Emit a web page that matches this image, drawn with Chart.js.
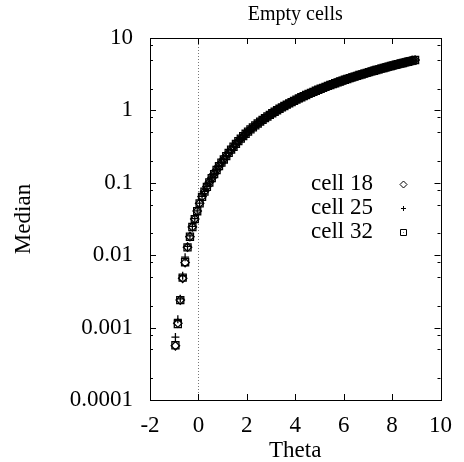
<!DOCTYPE html>
<html>
<head>
<meta charset="utf-8">
<script src="https://cdn.jsdelivr.net/npm/chart.js@4.4.0/dist/chart.umd.min.js"></script>
<style>
  html, body { margin: 0; padding: 0; background: #fff; }
  #wrap { width: 464px; height: 462px; }
</style>
</head>
<body>
<div id="wrap"><canvas id="medianChart" width="464" height="462"></canvas></div>
<script>
// Empty cells - median vs theta

var theta = [
    -0.95, -0.85, -0.75, -0.65, -0.55, -0.45, -0.35, -0.25, -0.15, -0.05,
    0.05, 0.15, 0.25, 0.35, 0.45, 0.55, 0.65, 0.75, 0.85, 0.95,
    1.05, 1.15, 1.25, 1.35, 1.45, 1.55, 1.65, 1.75, 1.85, 1.95,
    2.05, 2.15, 2.25, 2.35, 2.45, 2.55, 2.65, 2.75, 2.85, 2.95,
    3.05, 3.15, 3.25, 3.35, 3.45, 3.55, 3.65, 3.75, 3.85, 3.95,
    4.05, 4.15, 4.25, 4.35, 4.45, 4.55, 4.65, 4.75, 4.85, 4.95,
    5.05, 5.15, 5.25, 5.35, 5.45, 5.55, 5.65, 5.75, 5.85, 5.95,
    6.05, 6.15, 6.25, 6.35, 6.45, 6.55, 6.65, 6.75, 6.85, 6.95,
    7.05, 7.15, 7.25, 7.35, 7.45, 7.55, 7.65, 7.75, 7.85, 7.95,
    8.05, 8.15, 8.25, 8.35, 8.45, 8.55, 8.65, 8.75, 8.85, 8.95
];

// theta -0.95 .. 1.25, where the cells differ a little
var lowCell18 = [0.00056, 0.00115, 0.0024, 0.0048, 0.0079, 0.0129, 0.018, 0.0246, 0.0316, 0.0407,
    0.052, 0.0645, 0.0756, 0.0886, 0.102, 0.116, 0.133, 0.150, 0.171, 0.190, 0.211, 0.235, 0.260];
var lowCell25 = [0.00074, 0.0013, 0.0025, 0.0052, 0.0094, 0.0132, 0.0185, 0.0250, 0.0320, 0.0410,
    0.0525, 0.065, 0.076, 0.089, 0.102, 0.117, 0.133, 0.151, 0.171, 0.191, 0.212, 0.235, 0.261];
var lowCell32 = [0.00057, 0.00112, 0.0024, 0.0049, 0.0080, 0.0128, 0.018, 0.0245, 0.0315, 0.0405,
    0.052, 0.064, 0.0755, 0.088, 0.101, 0.116, 0.132, 0.150, 0.170, 0.190, 0.210, 0.234, 0.259];

// theta 1.35 .. 8.95, the three cells overlap
var upperMedian = [
    0.287, 0.315, 0.345, 0.376, 0.408, 0.441, 0.475, 0.510, 0.546, 0.583,
    0.621, 0.660, 0.700, 0.741, 0.783, 0.825, 0.869, 0.914, 0.959, 1.006,
    1.053, 1.102, 1.151, 1.200, 1.251, 1.303, 1.356, 1.409, 1.463, 1.518,
    1.574, 1.631, 1.689, 1.747, 1.806, 1.866, 1.927, 1.988, 2.050, 2.113,
    2.177, 2.242, 2.307, 2.373, 2.440, 2.508, 2.576, 2.646, 2.716, 2.786,
    2.858, 2.930, 3.003, 3.077, 3.151, 3.227, 3.302, 3.380, 3.456, 3.534,
    3.613, 3.692, 3.772, 3.853, 3.934, 4.017, 4.100, 4.183, 4.267, 4.352,
    4.438, 4.524, 4.611, 4.699, 4.787, 4.876, 4.966
];

var seriesNames = ['cell 18', 'cell 25', 'cell 32'];
var xTicks = [-2, 0, 2, 4, 6, 8, 10];
var yTicks = [0.0001, 0.001, 0.01, 0.1, 1, 10];
var yTickLabels = ['0.0001', '0.001', '0.01', '0.1', '1', '10'];
var yMinorSteps = [2, 5, 8];

var FONT = '"Liberation Serif", "Times New Roman", serif';

function toPoints(values) {
    return values.map(function (v, i) { return { x: theta[i], y: v }; });
}

function drawMarker(ctx, style, x, y, r) {
    ctx.beginPath();
    if (style === 'rectRot') {
        ctx.moveTo(x, y - r); ctx.lineTo(x + r, y); ctx.lineTo(x, y + r); ctx.lineTo(x - r, y); ctx.closePath();
    } else if (style === 'cross') {
        ctx.moveTo(x - r, y); ctx.lineTo(x + r, y); ctx.moveTo(x, y - r); ctx.lineTo(x, y + r);
    } else {
        ctx.rect(x - r, y - r, 2 * r, 2 * r);
        ctx.moveTo(x, y); ctx.lineTo(x + 0.5, y);
    }
    ctx.stroke();
}

var framePlugin = {
    id: 'frame',
    beforeDatasetsDraw: function (chart) {
        var ctx = chart.ctx, a = chart.chartArea;
        var x0 = Math.round(chart.scales.x.getPixelForValue(0)) + 0.5;
        ctx.save();
        ctx.strokeStyle = '#777';
        ctx.lineWidth = 1;
        ctx.setLineDash([1, 2]);
        ctx.beginPath();
        ctx.moveTo(x0, a.top);
        ctx.lineTo(x0, a.bottom);
        ctx.stroke();
        ctx.restore();
    },
    afterDatasetsDraw: function (chart) {
        var ctx = chart.ctx, a = chart.chartArea;
        var sx = chart.scales.x, sy = chart.scales.y;
        ctx.save();
        ctx.strokeStyle = '#000';
        ctx.lineWidth = 1;
        ctx.strokeRect(Math.round(a.left) + 0.5, Math.round(a.top) + 0.5,
            Math.round(a.right - a.left), Math.round(a.bottom - a.top));
        ctx.beginPath();
        xTicks.forEach(function (t) {
            var px = Math.round(sx.getPixelForValue(t)) + 0.5;
            ctx.moveTo(px, a.bottom); ctx.lineTo(px, a.bottom - 6);
            ctx.moveTo(px, a.top); ctx.lineTo(px, a.top + 6);
        });
        yTicks.forEach(function (t, i) {
            var py = Math.round(sy.getPixelForValue(t)) + 0.5;
            ctx.moveTo(a.left, py); ctx.lineTo(a.left + 6, py);
            ctx.moveTo(a.right, py); ctx.lineTo(a.right - 6, py);
            if (i < yTicks.length - 1) {
                yMinorSteps.forEach(function (m) {
                    var pm = Math.round(sy.getPixelForValue(t * m)) + 0.5;
                    ctx.moveTo(a.left, pm); ctx.lineTo(a.left + 3, pm);
                    ctx.moveTo(a.right, pm); ctx.lineTo(a.right - 3, pm);
                });
            }
        });
        ctx.stroke();

        // title
        ctx.fillStyle = '#000';
        ctx.font = '20px ' + FONT;
        ctx.textAlign = 'center';
        ctx.textBaseline = 'middle';
        ctx.fillText('Empty cells', (a.left + a.right) / 2, 15);

        // key
        var rows = [184, 208, 232];
        ctx.font = '23px ' + FONT;
        ctx.textAlign = 'right';
        ctx.lineWidth = 1;
        var keyStyles = [['rectRot', 3.5], ['cross', 2.5], ['rect', 3]];
        chart.data.datasets.forEach(function (ds, i) {
            ctx.fillText(ds.label, 373, rows[i]);
            drawMarker(ctx, keyStyles[i][0], 403.5, rows[i] + 0.5, keyStyles[i][1]);
        });
        ctx.restore();
    }
};

function makeDataset(label, values, style, radius) {
    return {
        label: label,
        data: toPoints(values),
        showLine: false,
        pointStyle: style,
        pointRadius: radius,
        pointBorderWidth: 1.3,
        pointBorderColor: '#000',
        pointBackgroundColor: 'rgba(0,0,0,0)'
    };
}

function initMedianChart() {
    var ctx = document.getElementById('medianChart').getContext('2d');
    var tickFont = { family: FONT, size: 23 };
    return new Chart(ctx, {
        type: 'scatter',
        data: {
            datasets: [
                makeDataset(seriesNames[0], lowCell18.concat(upperMedian), 'rectRot', 4.2),
                makeDataset(seriesNames[1], lowCell25.concat(upperMedian), 'cross', 4),
                makeDataset(seriesNames[2], lowCell32.concat(upperMedian), 'rect', 5)
            ]
        },
        options: {
            responsive: false,
            animation: false,
            devicePixelRatio: 1,
            layout: { padding: { top: 38, right: 17, left: 0, bottom: 0 } },
            plugins: {
                legend: { display: false },
                tooltip: { enabled: false },
                title: { display: false }
            },
            scales: {
                x: {
                    type: 'linear',
                    min: -2,
                    max: 10,
                    afterBuildTicks: function (s) {
                        s.ticks = xTicks.map(function (v) { return { value: v }; });
                    },
                    ticks: { font: tickFont, color: '#000', padding: 12, maxRotation: 0 },
                    grid: { display: false, drawTicks: false },
                    border: { display: false },
                    title: { display: true, text: 'Theta', font: tickFont, color: '#000', padding: { top: 0, bottom: -3 } },
                    afterFit: function (s) { s.height = 62; }
                },
                y: {
                    type: 'logarithmic',
                    min: 0.0001,
                    max: 10,
                    afterBuildTicks: function (s) {
                        s.ticks = yTicks.map(function (v) { return { value: v }; });
                    },
                    ticks: {
                        font: tickFont,
                        color: '#000',
                        padding: 17,
                        callback: function (value) {
                            for (var i = 0; i < yTicks.length; i++) {
                                if (Math.abs(Math.log10(value) - Math.log10(yTicks[i])) < 1e-6) return yTickLabels[i];
                            }
                            return '';
                        }
                    },
                    grid: { display: false, drawTicks: false },
                    border: { display: false },
                    title: { display: true, text: 'Median', font: tickFont, color: '#000', padding: { top: 10, bottom: 0 } },
                    afterFit: function (s) { s.width = 150; }
                }
            }
        },
        plugins: [framePlugin]
    });
}

initMedianChart();
</script>
</body>
</html>
